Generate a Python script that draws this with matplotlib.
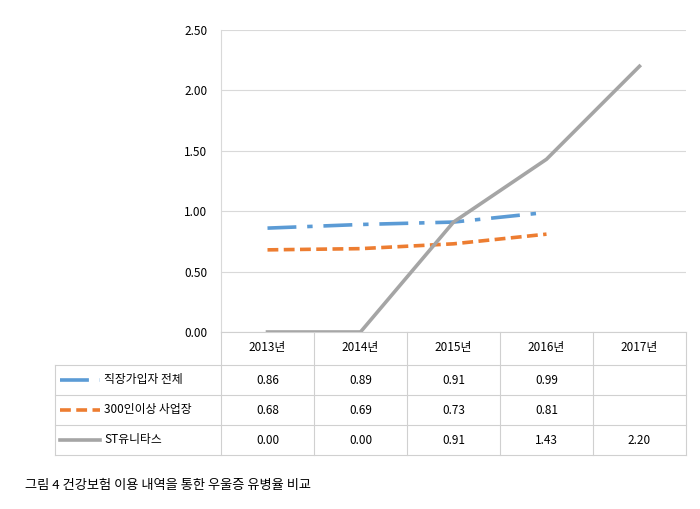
import matplotlib
matplotlib.use("Agg")
import matplotlib.pyplot as plt
from matplotlib.lines import Line2D

plt.rcParams['font.family'] = ['Noto Sans CJK KR', 'Noto Sans CJK JP', 'Noto Sans CJK SC', 'Noto Sans CJK TC', 'DejaVu Sans']

years = ["2013년", "2014년", "2015년", "2016년", "2017년"]
s_names = ["직장가입자 전체", "300인이상 사업장", "ST유니타스"]
s1 = [0.86, 0.89, 0.91, 0.99]
s2 = [0.68, 0.69, 0.73, 0.81]
s3 = [0.00, 0.00, 0.91, 1.43, 2.20]
yticks = [0.0, 0.5, 1.0, 1.5, 2.0, 2.5]

colors = ["#5b9bd5", "#ed7d31", "#a5a5a5"]
styles = [(0, (8, 3, 1.5, 3)), (0, (3, 1.5)), "-"]
series = [s1, s2, s3]

W, H = 700, 509
fig = plt.figure(figsize=(7, 5.09), dpi=100)
L, R, T, B = 221, 686, 30, 332
ax = fig.add_axes([L/W, 1-B/H, (R-L)/W, (B-T)/H])
for s, c, ls in zip(series, colors, styles):
    ax.plot(range(len(s)), s, color=c, lw=2.6, linestyle=ls)
ax.set_xlim(-0.5, 4.5)
ax.set_ylim(0, 2.5)
ax.set_yticks(yticks)
ax.set_yticklabels([f"{v:.2f}" for v in yticks], fontsize=8.5)
ax.set_xticks([])
ax.grid(axis='y', color='#d9d9d9', lw=0.8)
for sp in ['top', 'right', 'bottom']:
    ax.spines[sp].set_visible(False)
ax.spines['left'].set_color('#d9d9d9')
ax.tick_params(axis='y', length=0, pad=10)

colw = (R-L)/5
rows_y = [332, 365, 395, 425, 455]
tl = 55
lc = '#d0d0d0'
def fx(x): return x/W
def fy(y): return 1-y/H
for i, y in enumerate(rows_y):
    x0 = L if i == 0 else tl
    fig.add_artist(Line2D([fx(x0), fx(R)], [fy(y), fy(y)], color=lc, lw=0.8))
for j in range(6):
    x = L + j*colw
    fig.add_artist(Line2D([fx(x), fx(x)], [fy(332), fy(455)], color=lc, lw=0.8))
fig.add_artist(Line2D([fx(tl), fx(tl)], [fy(365), fy(455)], color=lc, lw=0.8))
for j, yr in enumerate(years):
    fig.text(fx(L+(j+.5)*colw), fy(348), yr, ha='center', va='center', fontsize=8.5)
for i, (name, s, c, ls) in enumerate(zip(s_names, series, colors, styles)):
    yc = (rows_y[i+1]+rows_y[i+2])/2
    fig.add_artist(Line2D([fx(60), fx(100)], [fy(yc), fy(yc)], color=c, lw=2.6, linestyle=ls))
    fig.text(fx(104), fy(yc), name, ha='left', va='center', fontsize=8.5)
    for j, v in enumerate(s):
        fig.text(fx(L+(j+.5)*colw), fy(yc), f"{v:.2f}", ha='center', va='center', fontsize=8.5)

fig.text(fx(25), fy(485), "그림 4 건강보험 이용 내역을 통한 우울증 유병율 비교", ha='left', va='center', fontsize=9.5)
fig.savefig("out.png", dpi=100)
